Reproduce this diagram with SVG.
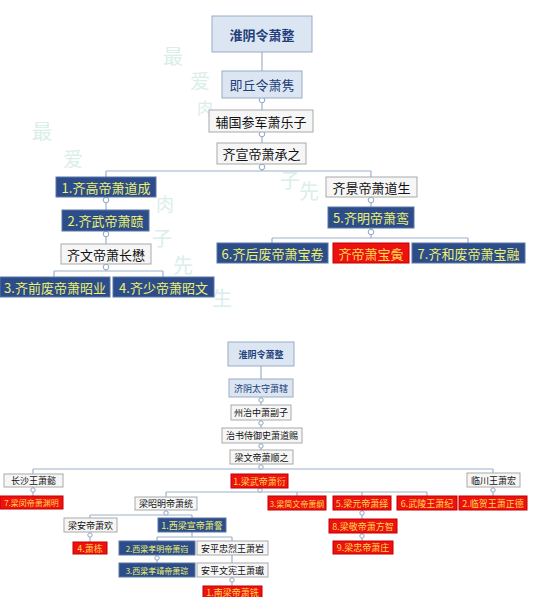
<svg xmlns="http://www.w3.org/2000/svg" width="533" height="597" viewBox="0 0 533 597">
<style>
text{font-family:"Noto Sans CJK SC","Liberation Sans",sans-serif;text-anchor:middle;dominant-baseline:central}
.wm{fill:#daeeea;font-size:20px}
.lb{fill:#dce6f2;stroke:#9aabc6;stroke-width:1}
.wb{fill:#f6f6f6;stroke:#a9a9a9;stroke-width:1}
.db{fill:#2c4d89;stroke:#5a76a8;stroke-width:1}
.rd{fill:#ee1111;stroke:#c40000;stroke-width:1}
.tl{fill:#23407a;font-weight:bold}
.tw{fill:#111}
.ty{fill:#eef070}
.tr{fill:#ffd84a}
.big{font-size:13px}
.sm{font-size:9px}
.xs{font-size:8px}
.c{stroke:#9db2cc;stroke-width:1.2;fill:none}
.d{fill:#fff;stroke:#8ea6c4;stroke-width:1}
</style>
<g id="watermark">
<text class="wm" x="173" y="55">最</text>
<text class="wm" x="200" y="80">爱</text>
<text class="wm" x="205" y="107" style="font-size:16px">肉</text>
<text class="wm" x="290" y="179">子</text>
<text class="wm" x="309" y="190">先</text>
<text class="wm" x="42" y="130">最</text>
<text class="wm" x="73" y="158">爱</text>
<text class="wm" x="165" y="203" style="font-size:18px">肉</text>
<text class="wm" x="162" y="237">子</text>
<text class="wm" x="183" y="264">先</text>
<text class="wm" x="222" y="297">生</text>
</g>
<g id="connectors">
<path class="c" d="M262 52V171M106 171H371M106 171V271M54 271H163M54 271V277M163 271V277M371 171V238M272 238H468M272 238V243M468 238V243"/>
<path class="c" d="M261 366V469M33 469H493M33 469V496M493 469V496M166 492H427M166 492V497M297 492V496M362 492V496M427 492V496M166 510V515M90 515H192M90 515V542M192 515V537M157 537H232M157 537V563M232 537V586M362 510V541"/>
<circle class="d" cx="262" cy="100" r="2.8"/>
<circle class="d" cx="262" cy="134" r="2.8"/>
<circle class="d" cx="262" cy="167" r="2.8"/>
<circle class="d" cx="106" cy="200" r="2.8"/>
<circle class="d" cx="106" cy="234" r="2.8"/>
<circle class="d" cx="106" cy="267" r="2.8"/>
<circle class="d" cx="371" cy="200" r="2.8"/>
<circle class="d" cx="371" cy="232" r="2.8"/>
<circle class="d" cx="261" cy="400" r="2.2"/>
<circle class="d" cx="261" cy="423" r="2.2"/>
<circle class="d" cx="261" cy="446" r="2.2"/>
<circle class="d" cx="261" cy="467" r="2.2"/>
<circle class="d" cx="260" cy="490" r="2.2"/>
<circle class="d" cx="33" cy="490" r="2.2"/>
<circle class="d" cx="493" cy="490" r="2.2"/>
<circle class="d" cx="166" cy="513" r="2.2"/>
<circle class="d" cx="90" cy="535" r="2.2"/>
<circle class="d" cx="362" cy="513" r="2.2"/>
<circle class="d" cx="362" cy="536" r="2.2"/>
<circle class="d" cx="157" cy="558" r="2.2"/>
<circle class="d" cx="232" cy="580" r="2.2"/>
</g>
<g id="n1"><rect class="lb" x="212" y="16" width="100" height="36"/><text class="tl big" x="262" y="34">淮阴令萧整</text></g>
<g id="n2"><rect class="lb" x="222" y="71" width="80" height="27"/><text class="tl big" x="262" y="84.5" style="font-weight:normal">即丘令萧隽</text></g>
<g id="n3"><rect class="wb" x="209" y="110" width="104" height="22"/><text class="tw big" x="261" y="121">辅国参军萧乐子</text></g>
<g id="n4"><rect class="wb" x="217" y="143" width="89" height="21"/><text class="tw big" x="261.5" y="153.5">齐宣帝萧承之</text></g>
<g id="n5"><rect class="db" x="56" y="177" width="100" height="20"/><text class="ty big" x="106" y="187">1.齐高帝萧道成</text></g>
<g id="n6"><rect class="db" x="62" y="210" width="87" height="21"/><text class="ty big" x="105.5" y="220.5">2.齐武帝萧赜</text></g>
<g id="n7"><rect class="wb" x="61" y="244" width="90" height="20"/><text class="tw big" x="106" y="254">齐文帝萧长懋</text></g>
<g id="n8"><rect class="db" x="0" y="277" width="110" height="20"/><text class="ty big" x="55" y="287">3.齐前废帝萧昭业</text></g>
<g id="n9"><rect class="db" x="113" y="277" width="101" height="20"/><text class="ty big" x="163.5" y="287">4.齐少帝萧昭文</text></g>
<g id="n10"><rect class="wb" x="326" y="177" width="91" height="20"/><text class="tw big" x="371.5" y="187">齐景帝萧道生</text></g>
<g id="n11"><rect class="db" x="328" y="207" width="86" height="21"/><text class="ty big" x="371" y="217.5">5.齐明帝萧鸾</text></g>
<g id="n12"><rect class="db" x="217" y="243" width="111" height="20"/><text class="ty big" x="272.5" y="253">6.齐后废帝萧宝卷</text></g>
<g id="n13"><rect class="rd" x="333" y="243" width="76" height="20"/><text class="tr big" x="371" y="253">齐帝萧宝夤</text></g>
<g id="n14"><rect class="db" x="412" y="243" width="113" height="20"/><text class="ty big" x="468.5" y="253">7.齐和废帝萧宝融</text></g>
<g id="m1"><rect class="lb" x="228" y="342" width="66" height="24"/><text class="tl sm" x="261" y="354">淮阴令萧整</text></g>
<g id="m2"><rect class="lb" x="229" y="379" width="64" height="18"/><text class="tl sm" x="261" y="388" style="font-weight:normal">济阴太守萧辖</text></g>
<g id="m3"><rect class="wb" x="231" y="405" width="60" height="15"/><text class="tw sm" x="261" y="412.5">州治中萧副子</text></g>
<g id="m4"><rect class="wb" x="222" y="428" width="80" height="15"/><text class="tw sm" x="262" y="435.5">治书侍御史萧道赐</text></g>
<g id="m5"><rect class="wb" x="230" y="450" width="63" height="14"/><text class="tw sm" x="261.5" y="457">梁文帝萧顺之</text></g>
<g id="m6"><rect class="wb" x="4" y="474" width="59" height="13"/><text class="tw sm" x="33.5" y="480.5">长沙王萧懿</text></g>
<g id="m7"><rect class="rd" x="231" y="474" width="57" height="14"/><text class="tr sm" x="259.5" y="481">1.梁武帝萧衍</text></g>
<g id="m8"><rect class="wb" x="467" y="473" width="53" height="14"/><text class="tw sm" x="493.5" y="480">临川王萧宏</text></g>
<g id="m9"><rect class="rd" x="0" y="496" width="63" height="13"/><text class="tr xs" x="31.5" y="502.5">7.梁闵帝萧渊明</text></g>
<g id="m10"><rect class="wb" x="135" y="497" width="62" height="13"/><text class="tw sm" x="166" y="503.5">梁昭明帝萧统</text></g>
<g id="m11"><rect class="rd" x="268" y="496" width="58" height="14"/><text class="tr xs" x="297" y="503">3.梁简文帝萧纲</text></g>
<g id="m12"><rect class="rd" x="333" y="496" width="58" height="14"/><text class="tr sm" x="362" y="503">5.梁元帝萧绎</text></g>
<g id="m13"><rect class="rd" x="397" y="496" width="60" height="14"/><text class="tr sm" x="427" y="503">6.武陵王萧纪</text></g>
<g id="m14"><rect class="rd" x="459" y="496" width="68" height="14"/><text class="tr sm" x="493" y="503">2.临贺王萧正德</text></g>
<g id="m15"><rect class="wb" x="64" y="518" width="53" height="14"/><text class="tw sm" x="90.5" y="525">梁安帝萧欢</text></g>
<g id="m16"><rect class="db" x="158" y="518" width="68" height="14"/><text class="ty sm" x="192" y="525">1.西梁宣帝萧詧</text></g>
<g id="m17"><rect class="rd" x="73" y="542" width="34" height="12"/><text class="tr sm" x="90" y="548">4.萧栋</text></g>
<g id="m18"><rect class="db" x="119" y="541" width="76" height="14"/><text class="ty xs" x="157" y="548">2.西梁孝明帝萧岿</text></g>
<g id="m19"><rect class="wb" x="197" y="541" width="71" height="14"/><text class="tw sm" x="232.5" y="548">安平忠烈王萧岩</text></g>
<g id="m20"><rect class="db" x="119" y="563" width="76" height="14"/><text class="ty xs" x="157" y="570">3.西梁孝靖帝萧琮</text></g>
<g id="m21"><rect class="wb" x="197" y="563" width="71" height="14"/><text class="tw sm" x="232.5" y="570">安平文宪王萧瓛</text></g>
<g id="m22"><rect class="rd" x="203" y="586" width="59" height="14"/><text class="tr sm" x="232.5" y="592">1.南梁帝萧铣</text></g>
<g id="m23"><rect class="rd" x="329" y="519" width="68" height="14"/><text class="tr sm" x="363" y="526">8.梁敬帝萧方智</text></g>
<g id="m24"><rect class="rd" x="333" y="541" width="60" height="13"/><text class="tr sm" x="363" y="547.5">9.梁忠帝萧庄</text></g>
</svg>
